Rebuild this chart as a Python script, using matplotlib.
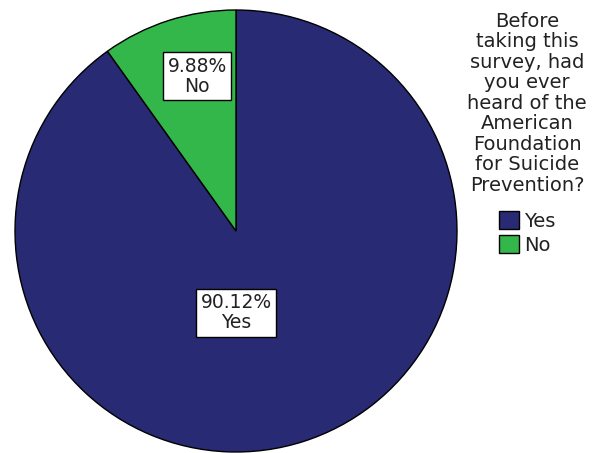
import matplotlib
matplotlib.use("Agg")
import matplotlib.pyplot as plt
import numpy as np

categories = ["Yes", "No"]
percentages = [90.12, 9.88]
colors = ["#282a73", "#33b64a"]
legend_title = ("Before\ntaking this\nsurvey, had\nyou ever\nheard of the\nAmerican\n"
                "Foundation\nfor Suicide\nPrevention?")

W, H = 592, 453
fig = plt.figure(figsize=(W / 100, H / 100), dpi=100)
ax = fig.add_axes([0, 0, 1, 1])

cx, cy, R = 236, 222, 221
wedges, _ = ax.pie(percentages, colors=colors, startangle=90, counterclock=False,
                   center=(cx, cy), radius=R, frame=True,
                   wedgeprops=dict(edgecolor="black", linewidth=1.0))
ax.set_xlim(0, W)
ax.set_ylim(0, H)
ax.axis("off")

# value labels inside each slice
label_pos = {"Yes": (0.0, -0.37), "No": (-0.176, 0.70)}
for cat, pct in zip(categories, percentages):
    dx, dy = label_pos[cat]
    ax.text(cx + dx * R, cy + dy * R, f"{pct:.2f}%\n{cat}", ha="center", va="center",
            fontsize=13.5, color="#222222", linespacing=1.05,
            bbox=dict(boxstyle="square,pad=0.25", facecolor="white", edgecolor="black",
                      linewidth=1.0))

leg = ax.legend(wedges, categories, title=legend_title, loc="upper center",
                bbox_to_anchor=(527, H - 2), bbox_transform=ax.transData,
                frameon=False, fontsize=14, title_fontsize=14,
                handlelength=1.05, handleheight=1.05, handletextpad=0.25,
                labelspacing=0.2, borderpad=0.0)
# extra room between the question and the entries
leg._legend_box.sep = 12
leg.get_title().set_multialignment("center")
leg.get_title().set_linespacing(1.1)
leg.get_title().set_color("#222222")
for t in leg.get_texts():
    t.set_color("#222222")

fig.savefig("out.png", dpi=100)
